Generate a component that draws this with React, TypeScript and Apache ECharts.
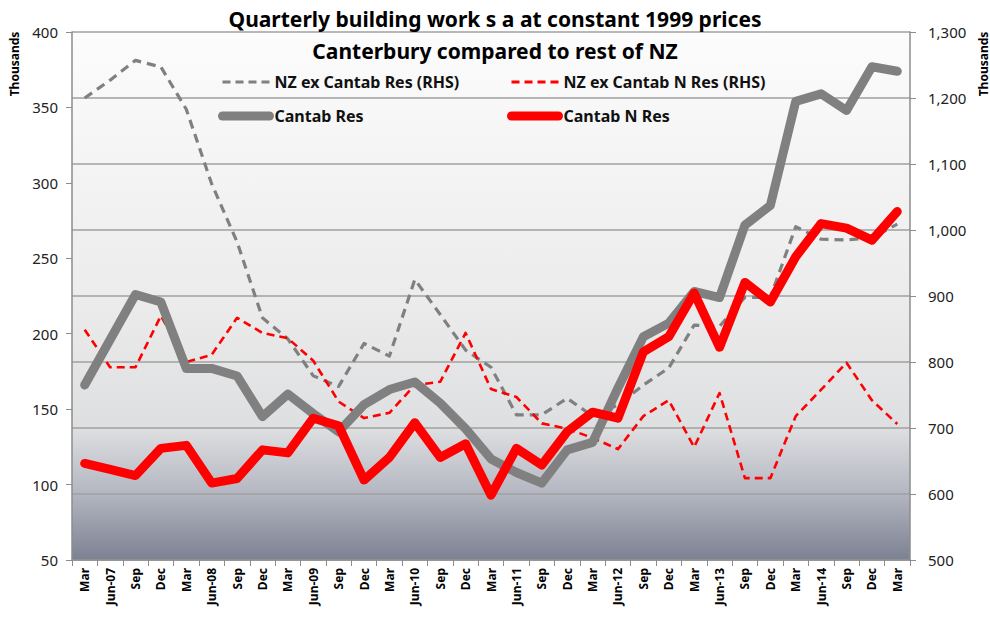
import React, { useEffect, useRef } from "react";
import * as echarts from "echarts";

const categories = ["Mar","Jun-07","Sep","Dec","Mar","Jun-08","Sep","Dec","Mar","Jun-09","Sep","Dec","Mar","Jun-10","Sep","Dec","Mar","Jun-11","Sep","Dec","Mar","Jun-12","Sep","Dec","Mar","Jun-13","Sep","Dec","Mar","Jun-14","Sep","Dec","Mar"];
const cantabRes = [166,196,226,221,177,177,172,145,160,147,135,153,163,168,154,137,117,108,101,123,128,164,198,207,228,224,272,285,354,359,348,377,374];
const cantabNRes = [114,110,106,124,126,101,104,123,121,144,139,103,118,141,118,127,93,124,113,135,148,144,188,198,227,191,234,221,251,273,270,262,281];
const nzExCantabRes = [1200,1227,1257,1247,1183,1070,982,867,835,779,763,828,809,925,872,818,792,720,720,745,718,735,765,791,856,854,898,898,1005,986,985,988,1009];
const nzExCantabNRes = [849,792,792,870,800,811,867,844,836,802,740,715,723,765,770,844,759,747,707,699,685,668,718,742,671,753,624,624,718,758,799,742,706];

const titleText = "Quarterly building work s a at constant 1999 prices";
const subtitleText = "Canterbury compared to rest of NZ";
const axisUnit = "Thousands";

const FONT = "Noto Sans";

export default function App() {
  const ref = useRef<HTMLDivElement>(null);
  useEffect(() => {
    document.body.style.margin = "0";
    const chart = echarts.init(ref.current!, null, { renderer: "svg" });
    const gray = "#808080";
    const red = "#ff0000";
    const legendText = { fontFamily: FONT, fontSize: 16, fontWeight: "bold", color: "#111" };
    chart.setOption({
      animation: false,
      backgroundColor: "#ffffff",
      textStyle: { fontFamily: FONT },
      title: [
        { text: titleText, left: "center", top: 3, textStyle: { fontFamily: FONT, fontSize: 21, fontWeight: "bold", color: "#000" } },
        { text: subtitleText, left: "center", top: 35, textStyle: { fontFamily: FONT, fontSize: 21, fontWeight: "bold", color: "#000" } },
      ],
      legend: [
        {
          left: 213, top: 69, orient: "vertical", itemGap: 18, itemWidth: 47, itemHeight: 16,
          data: [
            { name: "NZ ex Cantab Res (RHS)", lineStyle: { width: 3.2, type: [8, 5], cap: "butt" } },
            { name: "Cantab Res", lineStyle: { width: 9, cap: "round" } },
          ],
          itemStyle: { opacity: 0 },
          textStyle: legendText,
        },
        {
          left: 502, top: 69, orient: "vertical", itemGap: 18, itemWidth: 47, itemHeight: 16,
          data: [
            { name: "NZ ex Cantab N Res (RHS)", lineStyle: { width: 3, type: [8, 5], cap: "butt" } },
            { name: "Cantab N Res", lineStyle: { width: 9, cap: "round" } },
          ],
          itemStyle: { opacity: 0 },
          textStyle: legendText,
        },
      ],
      grid: {
        left: 72, right: 80, top: 32, bottom: 61, show: true, borderWidth: 0,
        backgroundColor: new echarts.graphic.LinearGradient(0, 0, 0, 1, [
          { offset: 0, color: "#fcfcfc" },
          { offset: 0.5, color: "#ececec" },
          { offset: 0.75, color: "#dedfe1" },
          { offset: 0.87, color: "#b5b8c2" },
          { offset: 1, color: "#7c8192" },
        ]),
      },
      xAxis: {
        type: "category",
        data: categories,
        boundaryGap: true,
        axisLine: { lineStyle: { color: "#8c8c8c", width: 1.5 } },
        axisTick: { show: true, lineStyle: { color: "#8c8c8c" }, length: 6 },
        axisLabel: { rotate: 90, interval: 0, fontFamily: FONT, fontSize: 12, fontWeight: "bold", color: "#000", margin: 8 },
      },
      yAxis: [
        {
          type: "value", min: 50, max: 400, interval: 50, position: "left",
          splitLine: { show: false },
          axisLine: { show: true, lineStyle: { color: "#8c8c8c", width: 1.5 } },
          axisTick: { show: true, lineStyle: { color: "#8c8c8c" }, length: 6 },
          axisLabel: { fontFamily: FONT, fontSize: 15, color: "#222", margin: 14 },
        },
        {
          type: "value", min: 500, max: 1300, interval: 100, position: "right",
          splitLine: { show: true, lineStyle: { color: "#a0a0a0", width: 1.5 } },
          axisLine: { show: true, lineStyle: { color: "#8c8c8c", width: 1.5 } },
          axisTick: { show: true, lineStyle: { color: "#8c8c8c" }, length: 6 },
          axisLabel: {
            fontFamily: FONT, fontSize: 15, color: "#222", margin: 18,
            formatter: (v: number) => v.toLocaleString("en-US"),
          },
        },
      ],
      series: [
        {
          name: "NZ ex Cantab Res (RHS)", type: "line", yAxisIndex: 1, data: nzExCantabRes,
          symbol: "none", itemStyle: { color: gray },
          lineStyle: { color: gray, width: 3.2, type: [9, 6], cap: "butt", join: "round" },
        },
        {
          name: "NZ ex Cantab N Res (RHS)", type: "line", yAxisIndex: 1, data: nzExCantabNRes,
          symbol: "none", itemStyle: { color: red },
          lineStyle: { color: red, width: 2.6, type: [8, 5], cap: "butt", join: "round" },
        },
        {
          name: "Cantab Res", type: "line", yAxisIndex: 0, data: cantabRes,
          symbol: "none", itemStyle: { color: gray },
          lineStyle: { color: gray, width: 9, cap: "round", join: "round" },
        },
        {
          name: "Cantab N Res", type: "line", yAxisIndex: 0, data: cantabNRes,
          symbol: "none", itemStyle: { color: red },
          lineStyle: { color: red, width: 9, cap: "round", join: "round" },
        },
      ],
      graphic: [
        {
          type: "text", x: 14, y: 64, rotation: Math.PI / 2,
          style: { text: axisUnit, fontFamily: FONT, fontSize: 12, fontWeight: "bold", fill: "#000", align: "center", verticalAlign: "middle" },
        },
        {
          type: "text", x: 983, y: 64, rotation: Math.PI / 2,
          style: { text: axisUnit, fontFamily: FONT, fontSize: 12, fontWeight: "bold", fill: "#000", align: "center", verticalAlign: "middle" },
        },
      ],
    });
    return () => chart.dispose();
  }, []);
  return <div ref={ref} style={{ width: 990, height: 621 }} />;
}
